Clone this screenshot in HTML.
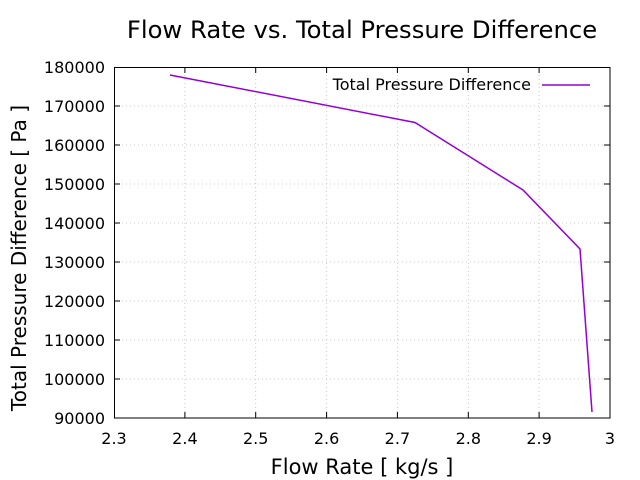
<!DOCTYPE html>
<html><head><style>body{margin:0;background:#fff}svg{display:block;font-family:"DejaVu Sans","Liberation Sans",sans-serif}</style></head>
<body>
<svg width="640" height="480" viewBox="0 0 640 480" xmlns="http://www.w3.org/2000/svg">
<rect width="640" height="480" fill="#fff"/>
<g stroke="#c8c8c8" stroke-width="1" stroke-dasharray="1,3">
<line x1="184.9" y1="67" x2="184.9" y2="418"/><line x1="255.7" y1="67" x2="255.7" y2="418"/><line x1="326.6" y1="67" x2="326.6" y2="418"/><line x1="397.4" y1="67" x2="397.4" y2="418"/><line x1="468.3" y1="67" x2="468.3" y2="418"/><line x1="539.1" y1="67" x2="539.1" y2="418"/>
<line x1="114" y1="106" x2="610" y2="106"/><line x1="114" y1="145" x2="610" y2="145"/><line x1="114" y1="184" x2="610" y2="184"/><line x1="114" y1="223" x2="610" y2="223"/><line x1="114" y1="262" x2="610" y2="262"/><line x1="114" y1="301" x2="610" y2="301"/><line x1="114" y1="340" x2="610" y2="340"/><line x1="114" y1="379" x2="610" y2="379"/>
</g>
<rect x="114.5" y="67.5" width="495.5" height="350.5" fill="none" stroke="#000" stroke-width="1"/>
<g stroke="#000">
<path d="M184.9 418v-6M255.7 418v-6M326.6 418v-6M397.4 418v-6M468.3 418v-6M539.1 418v-6M184.9 67v6M255.7 67v6M326.6 67v6M397.4 67v6M468.3 67v6M539.1 67v6"/>
<path d="M114 106h6M114 145h6M114 184h6M114 223h6M114 262h6M114 301h6M114 340h6M114 379h6M610 106h-6M610 145h-6M610 184h-6M610 223h-6M610 262h-6M610 301h-6M610 340h-6M610 379h-6"/>
</g>
<g font-size="16" fill="#000" text-anchor="middle">
<text x="114" y="444">2.3</text><text x="184.9" y="444">2.4</text><text x="255.7" y="444">2.5</text><text x="326.6" y="444">2.6</text><text x="397.4" y="444">2.7</text><text x="468.3" y="444">2.8</text><text x="539.1" y="444">2.9</text><text x="610" y="444">3</text>
</g>
<g font-size="16" fill="#000" text-anchor="end">
<text x="105" y="73">180000</text><text x="105" y="112">170000</text><text x="105" y="151">160000</text><text x="105" y="190">150000</text><text x="105" y="229">140000</text><text x="105" y="268">130000</text><text x="105" y="307">120000</text><text x="105" y="346">110000</text><text x="105" y="385">100000</text><text x="105" y="424">90000</text>
</g>
<text x="362" y="38" font-size="24.3" text-anchor="middle">Flow Rate vs. Total Pressure Difference</text>
<text x="362" y="474" font-size="21" text-anchor="middle">Flow Rate [ kg/s ]</text>
<text transform="translate(26,258) rotate(-90)" font-size="20" text-anchor="middle">Total Pressure Difference [ Pa ]</text>
<text x="531" y="90" font-size="16" text-anchor="end">Total Pressure Difference</text>
<line x1="542" y1="85" x2="590" y2="85" stroke="#9400d3" stroke-width="1.5"/>
<polyline points="170,75 415,122.5 523,190 580,249 592,412" fill="none" stroke="#9400d3" stroke-width="1.5"/>
</svg>
</body></html>
